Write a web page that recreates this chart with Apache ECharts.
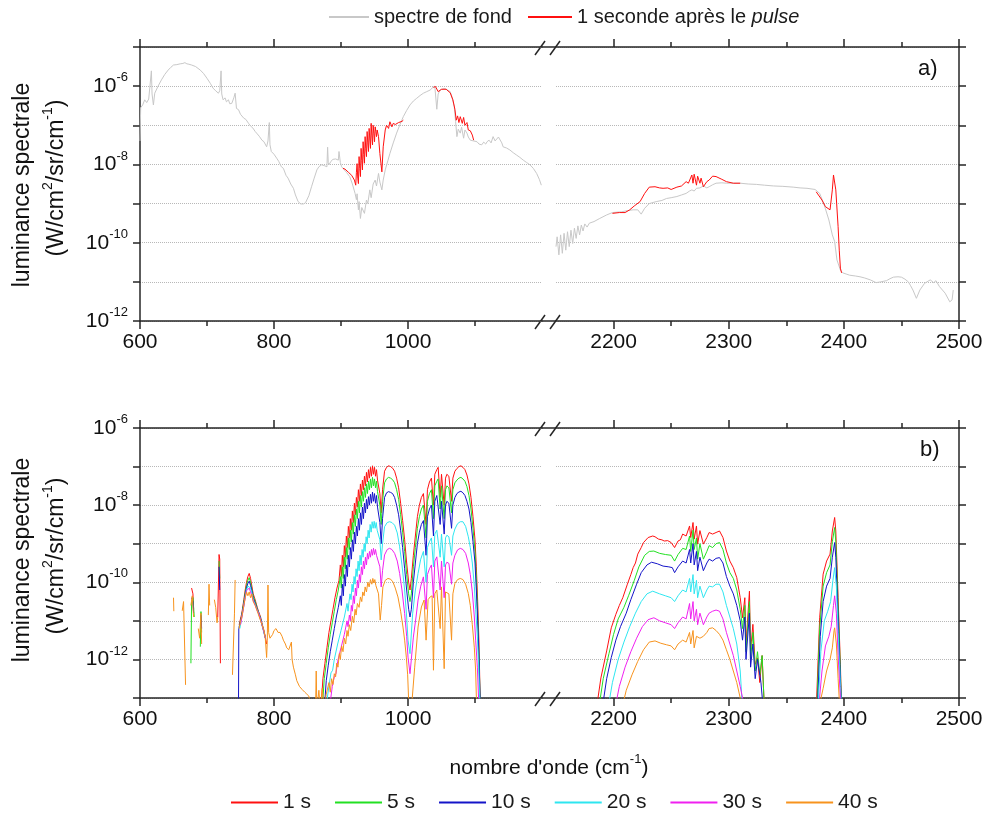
<!DOCTYPE html>
<html><head><meta charset="utf-8">
<script src="https://cdn.jsdelivr.net/npm/echarts@6/dist/echarts.min.js"></script>
<style>html,body{margin:0;padding:0;background:#fff}#c{width:987px;height:821px}</style>
</head><body><div id="c"></div>
<script>
// ---------------- DATA (wavenumber cm-1, log10 of spectral radiance W/cm2/sr/cm-1) ----------------
var xLeftMajor = [600, 800, 1000];
var xLeftMinor = [700, 900, 1100];
var xRightMajor = [2200, 2300, 2400, 2500];
var xRightMinor = [2250, 2350, 2450];
var yLabelExponents = [-6, -8, -10, -12];
var legendA = ['spectre de fond', '1 seconde après le pulse'];
var legendB = ['1 s', '5 s', '10 s', '20 s', '30 s', '40 s'];

// panel a) background spectrum
var bgLeft = [[600,-7.4],[601,-6.55],[604,-6.48],[607,-6.35],[610,-6.42],[613,-6.33],[615,-6.38],[617,-5.61],[618,-6.2],[620,-6.48],[622,-6.18],[627,-6.0],[632,-5.84],[637,-5.7],[642,-5.59],[646,-5.52],[650,-5.46],[655,-5.45],[660,-5.43],[664,-5.42],[667,-5.4],[670,-5.43],[673,-5.44],[677,-5.46],[683,-5.5],[690,-5.59],[695,-5.68],[700,-5.8],[705,-5.93],[709,-6.05],[713,-6.12],[717,-6.18],[719,-6.12],[721,-5.61],[722,-6.2],[724,-6.35],[727,-6.3],[729,-6.4],[732,-6.35],[734,-6.45],[737,-6.44],[740,-6.3],[742,-6.18],[744,-6.57],[747,-6.6],[750,-6.72],[752,-6.74],[755,-6.82],[758,-6.85],[762,-6.95],[765,-7.02],[768,-7.06],[772,-7.16],[775,-7.22],[778,-7.28],[782,-7.38],[785,-7.42],[789,-7.55],[791,-7.4],[793,-6.93],[794,-7.5],[796,-7.67],[800,-7.74],[804,-7.84],[807,-7.92],[811,-8.06],[814,-8.1],[818,-8.28],[821,-8.35],[825,-8.5],[829,-8.61],[832,-8.78],[836,-8.95],[840,-9.01],[844,-9.01],[847,-8.98],[849,-8.95],[852,-8.8],[856,-8.57],[860,-8.35],[864,-8.14],[867,-8.06],[871,-8.01],[875,-8.03],[879,-8.06],[880,-7.56],[881,-7.95],[882,-8.01],[885,-7.92],[888,-7.87],[892,-7.86],[896,-7.89],[897,-7.67],[899,-7.95],[901,-8.06],[903,-8.10],[908,-8.2],[913,-8.31],[917,-8.5],[921,-8.74],[923,-8.9],[924,-8.75],[926,-9.16],[927,-8.95],[929,-9.38],[931,-9.1],[933,-9.08],[935,-9.25],[938,-8.91],[940,-9.0],[943,-8.65],[945,-8.85],[948,-8.5],[951,-8.40],[953,-8.55],[956,-8.23],[958,-8.45],[961,-8.65],[963,-8.4],[966,-8.14],[970,-7.9],[973,-7.72],[978,-7.45],[983,-7.20],[988,-6.98],[993,-6.78],[998,-6.62],[1003,-6.48],[1008,-6.38],[1013,-6.31],[1018,-6.24],[1023,-6.18],[1028,-6.14],[1033,-6.10],[1036,-6.05],[1040,-6.0],[1041,-6.05],[1043,-6.59],[1045,-6.2],[1048,-6.10],[1052,-6.07],[1055,-6.06],[1059,-6.1],[1063,-6.14],[1066,-6.3],[1069,-6.52],[1071,-6.9],[1073,-7.29],[1075,-7.1],[1078,-7.2],[1080,-7.05],[1083,-7.33],[1085,-7.12],[1088,-7.2],[1090,-7.3],[1093,-7.38],[1098,-7.4],[1103,-7.42],[1106,-7.48],[1110,-7.50],[1113,-7.43],[1116,-7.48],[1118,-7.42],[1121,-7.38],[1124,-7.45],[1127,-7.29],[1130,-7.4],[1132,-7.38],[1135,-7.3],[1137,-7.33],[1140,-7.45],[1142,-7.55],[1147,-7.58],[1152,-7.63],[1157,-7.7],[1162,-7.76],[1167,-7.82],[1172,-7.89],[1177,-7.95],[1182,-8.01],[1187,-8.1],[1192,-8.23],[1196,-8.38],[1199,-8.53]];
var bgRight = [[2150,-10.10],[2151,-9.85],[2152.5,-10.31],[2154,-9.80],[2155.5,-10.27],[2157,-9.76],[2158.5,-10.19],[2160,-9.72],[2161.5,-10.10],[2163,-9.68],[2164.5,-10.02],[2166,-9.63],[2167.5,-9.89],[2169,-9.57],[2170.5,-9.8],[2172,-9.55],[2173.5,-9.7],[2175,-9.52],[2177,-9.6],[2179,-9.50],[2183,-9.46],[2188,-9.38],[2194,-9.29],[2199,-9.23],[2203,-9.22],[2207,-9.21],[2212,-9.18],[2217,-9.16],[2221,-9.16],[2224,-9.27],[2227,-9.12],[2231,-9.00],[2237,-8.95],[2242,-8.92],[2246,-8.87],[2250,-8.85],[2255,-8.82],[2259,-8.78],[2263,-8.74],[2266,-8.68],[2268,-8.65],[2270,-8.68],[2272,-8.61],[2275,-8.6],[2278,-8.55],[2281,-8.6],[2283,-8.57],[2286,-8.52],[2289,-8.48],[2294,-8.47],[2298,-8.48],[2304,-8.48],[2310,-8.48],[2317,-8.5],[2324,-8.51],[2331,-8.53],[2339,-8.55],[2347,-8.56],[2356,-8.58],[2362,-8.6],[2368,-8.61],[2375,-8.64],[2379,-8.74],[2383,-9.04],[2387,-9.42],[2390,-9.80],[2392,-9.97],[2394,-10.44],[2397,-10.70],[2399,-10.77],[2402,-10.8],[2405,-10.83],[2410,-10.85],[2414,-10.87],[2418,-10.9],[2423,-10.95],[2428,-11.02],[2432,-11.0],[2437,-10.97],[2440,-10.92],[2443,-10.88],[2447,-10.87],[2450,-10.88],[2453,-10.93],[2456,-11.00],[2458,-11.1],[2460,-11.21],[2463,-11.42],[2466,-11.21],[2470,-11.04],[2475,-10.95],[2478,-11.02],[2480,-10.97],[2483,-11.12],[2488,-11.29],[2492,-11.51],[2494,-11.46],[2495,-11.21]];
// panel a) 1 s after the pulse
var pulseLeft = [[903,-8.10],[906,-8.12],[908,-8.14],[911,-8.2],[913,-8.23],[916,-8.28],[918,-8.31],[920,-8.4],[922,-8.53],[923,-8.2],[924,-7.98],[925,-8.35],[926,-8.49],[927,-7.80],[928,-8.1],[929,-8.31],[930,-7.59],[931,-7.9],[932,-8.14],[933,-7.42],[934,-7.75],[935,-7.97],[936,-7.29],[937,-7.6],[938,-7.80],[939,-7.16],[940,-7.45],[941,-7.67],[942,-7.08],[943,-7.35],[944,-7.59],[945,-6.95],[946,-7.25],[947,-7.50],[948,-7.00],[949,-7.2],[950,-7.42],[951,-7.04],[952,-7.15],[953,-7.29],[954,-7.12],[956,-7.29],[958,-7.72],[961,-8.19],[963,-7.55],[966,-7.12],[968,-7.00],[971,-7.08],[973,-6.91],[976,-7.04],[978,-6.95],[981,-6.98],[983,-7.00],[986,-6.93],[988,-6.95],[991,-6.9],[993,-6.87],null,[1038,-6.03],[1041,-6.01],[1045,-6.14],[1050,-6.08],[1057,-6.08],[1063,-6.17],[1067,-6.35],[1070,-6.59],[1072,-6.87],[1074,-6.76],[1076,-6.93],[1078,-6.78],[1081,-6.95],[1083,-6.80],[1085,-7.00],[1088,-6.93],[1090,-7.12],[1093,-7.14],[1096,-7.25],[1098,-7.38]];
var pulseRight = [[2199,-9.25],[2205,-9.23],[2210,-9.23],[2214,-9.16],[2218,-9.06],[2223,-8.95],[2227,-8.74],[2231,-8.58],[2236,-8.57],[2240,-8.6],[2243,-8.61],[2247,-8.6],[2250,-8.64],[2255,-8.58],[2259,-8.55],[2263,-8.44],[2265,-8.48],[2268,-8.27],[2269,-8.48],[2270,-8.25],[2272,-8.53],[2273,-8.30],[2275,-8.48],[2276,-8.35],[2278,-8.57],[2281,-8.44],[2283,-8.40],[2286,-8.30],[2289,-8.31],[2294,-8.38],[2298,-8.44],[2304,-8.48],[2310,-8.48],null,[2376,-8.70],[2381,-8.91],[2384,-9.08],[2388,-9.16],[2390,-8.65],[2391,-8.27],[2393,-8.65],[2395,-9.59],[2396,-10.19],[2397,-10.65],[2398,-10.77]];

// panel b) time series after the pulse
var s1Left = [[677,-10.15],[679,-10.3],[680,-10.7],null,[716,-10.9],[718,-9.28],[719,-9.4],[720,-12.1],null,[748,-11.1],[752,-10.8],[755,-10.45],[757,-10.2],[759,-10.0],[761,-9.85],[763,-9.77],[765,-9.9],[767,-10.1],[769,-10.3],[772,-10.46],[775,-10.65],[777,-10.76],[780,-10.9],[782,-11.06],[785,-11.25],[787,-11.41],[789,-11.6],null,
[870,-13.3],[873,-12.5],[876,-12.1],[879,-11.7],[882,-11.3],[885,-11.0],[888,-10.7],[891,-10.4],[894,-10.15],[897,-9.95],[899,-9.55],[900.5,-9.85],[902,-9.3],[903.5,-9.6],[905,-9.05],[906.5,-9.35],[908,-8.8],[909.5,-9.1],[911,-8.55],[912.5,-8.85],[914,-8.35],[915.5,-8.65],[917,-8.15],[918.5,-8.45],[920,-7.95],[921.5,-8.25],[923,-7.8],[924.5,-8.05],[926,-7.6],[927.5,-7.9],[929,-7.45],[930.5,-7.75],[932,-7.35],[933.5,-7.6],[935,-7.25],[936.5,-7.5],[938,-7.15],[939.5,-7.4],[941,-7.08],[942.5,-7.3],[944,-7.02],[945.5,-7.25],[947,-6.98],[948.5,-7.2],[950,-7.02],[951.5,-7.25],[953,-7.08],[954.5,-7.35],[956,-7.3],[958,-7.7],[960,-8.2],[962,-7.6],[965,-7.12],[968,-7.02],[971,-6.98],[974,-7.0],[977,-7.04],[980,-7.12],[983,-7.3],[986,-7.55],[989,-7.95],[992,-8.4],[995,-8.9],[998,-9.5],[1001,-10.0],[1003,-10.2],
[1005,-9.9],[1008,-9.3],[1011,-8.8],[1014,-8.3],[1017,-8.0],[1020,-7.8],[1023,-7.7],[1025,-7.75],[1027,-8.5],[1029,-7.6],[1032,-7.4],[1035,-7.3],[1038,-8.0],[1040,-7.2],[1043,-7.08],[1045,-7.02],[1048,-7.8],[1050,-7.2],[1052,-7.15],[1054,-8.0],[1056,-7.3],[1058,-7.2],[1061,-7.25],[1065,-7.9],[1067,-7.3],[1070,-7.12],[1073,-7.05],[1076,-7.0],[1079,-6.98],[1082,-7.02],[1085,-7.08],[1088,-7.22],[1091,-7.45],[1094,-7.8],[1097,-8.3],[1100,-8.9],[1102,-9.6],[1104,-10.5],[1106,-11.6],[1108,-13.3]];
var s1Right = [[2185,-13.3],[2189,-12.48],[2194,-11.78],[2198,-11.18],[2202,-10.83],[2205,-10.6],[2208,-10.40],[2212,-10.05],[2215,-9.8],[2217,-9.62],[2219,-9.5],[2221,-9.27],[2224,-9.1],[2226,-8.97],[2230,-8.84],[2234,-8.80],[2236,-8.82],[2239,-8.88],[2242,-8.9],[2244,-8.93],[2247,-8.92],[2250,-8.97],[2253,-9.10],[2256,-8.93],[2258,-8.9],[2260,-8.75],[2263,-8.80],[2266,-8.54],[2267,-8.84],[2269,-8.45],[2270,-8.88],[2272,-8.54],[2273,-9.01],[2275,-8.66],[2278,-9.01],[2281,-8.84],[2283,-8.71],[2286,-8.75],[2289,-8.71],[2292,-8.67],[2295,-8.84],[2298,-9.19],[2301,-9.45],[2304,-9.62],[2307,-9.88],[2310,-10.40],[2312,-10.92],[2314,-10.40],[2315,-11.61],[2318,-10.23],[2319,-11.78],[2321,-11.09],[2323,-12.13],[2325,-11.96],[2327,-12.6],[2329,-11.9],[2331,-13.3],null,[2376,-13.3],[2379,-10.92],[2382,-9.79],[2385,-9.45],[2388,-9.27],[2390,-8.67],[2392,-8.32],[2393,-8.67],[2395,-10.4],[2397,-12.13],[2398,-13.3]];

var s5Left = [[676,-12.1],[677,-10.5],[679,-10.4],[681,-10.9],null,[690,-11.67],[691,-10.76],[692,-11.3],null,[718,-9.45],[719,-9.9],null,[748,-11.15],[752,-10.85],[755,-10.5],[757,-10.27],[759,-10.08],[761,-9.95],[763,-9.88],[765,-10.0],[767,-10.18],[769,-10.35],[772,-10.5],[775,-10.68],[777,-10.78],[780,-10.93],[782,-11.08],[785,-11.27],[787,-11.43],null,
[872,-13.3],[875,-12.5],[878,-12.1],[881,-11.7],[884,-11.35],[887,-11.05],[890,-10.75],[893,-10.45],[896,-10.2],[899,-9.85],[900.5,-10.15],[902,-9.6],[903.5,-9.9],[905,-9.35],[906.5,-9.65],[908,-9.1],[909.5,-9.4],[911,-8.85],[912.5,-9.15],[914,-8.65],[915.5,-8.95],[917,-8.45],[918.5,-8.75],[920,-8.25],[921.5,-8.55],[923,-8.1],[924.5,-8.35],[926,-7.9],[927.5,-8.2],[929,-7.75],[930.5,-8.05],[932,-7.65],[933.5,-7.9],[935,-7.55],[936.5,-7.8],[938,-7.45],[939.5,-7.7],[941,-7.38],[942.5,-7.6],[944,-7.32],[945.5,-7.55],[947,-7.28],[948.5,-7.5],[950,-7.32],[951.5,-7.55],[953,-7.38],[954.5,-7.65],[956,-7.6],[958,-8.0],[960,-8.5],[962,-7.9],[965,-7.42],[968,-7.32],[971,-7.28],[974,-7.3],[977,-7.34],[980,-7.42],[983,-7.6],[986,-7.85],[989,-8.25],[992,-8.7],[995,-9.2],[998,-9.8],[1001,-10.3],[1003,-10.5],
[1005,-10.3],[1008,-9.6],[1011,-9.1],[1014,-8.6],[1017,-8.3],[1020,-8.1],[1023,-8.0],[1025,-8.05],[1027,-8.85],[1029,-7.9],[1032,-7.7],[1035,-7.6],[1038,-8.35],[1040,-7.5],[1043,-7.38],[1045,-7.32],[1048,-8.1],[1050,-7.5],[1052,-7.45],[1054,-8.35],[1056,-7.6],[1058,-7.5],[1061,-7.55],[1065,-8.2],[1067,-7.6],[1070,-7.42],[1073,-7.35],[1076,-7.3],[1079,-7.28],[1082,-7.32],[1085,-7.38],[1088,-7.52],[1091,-7.75],[1094,-8.1],[1097,-8.6],[1100,-9.2],[1102,-9.9],[1104,-10.8],[1106,-11.9],[1108,-13.3]];
var s5Right = [[2187,-13.3],[2191,-12.5],[2196,-11.85],[2200,-11.35],[2204,-10.95],[2209,-10.65],[2213,-10.35],[2218,-9.95],[2222,-9.6],[2227,-9.3],[2231,-9.2],[2235,-9.19],[2240,-9.25],[2245,-9.28],[2250,-9.3],[2253,-9.45],[2256,-9.28],[2260,-9.12],[2263,-9.15],[2266,-8.8],[2267,-9.2],[2269,-8.65],[2270,-9.15],[2272,-8.85],[2273,-9.4],[2275,-9.0],[2278,-9.4],[2281,-9.2],[2283,-9.05],[2286,-9.1],[2289,-9.0],[2292,-8.97],[2295,-9.15],[2298,-9.5],[2301,-9.75],[2304,-9.9],[2307,-10.2],[2310,-10.7],[2312,-11.2],[2314,-10.6],[2315,-11.8],[2318,-10.5],[2319,-12.0],[2321,-11.3],[2323,-12.3],[2325,-11.8],[2327,-12.4],[2329,-11.9],[2331,-13.3],null,[2376.5,-13.3],[2379,-11.2],[2382,-10.1],[2385,-9.75],[2388,-9.55],[2390,-8.95],[2392,-8.58],[2393,-8.95],[2395,-10.6],[2397,-12.3],[2398,-13.3]];

var s10Left = [[677,-10.4],[679,-10.5],[680,-10.8],null,[691,-10.85],[692,-11.2],null,[718,-9.6],[719,-10.2],null,[747,-13.3],[747.5,-11.2],[750,-11.0],[752,-10.85],[755,-10.55],[757,-10.32],[759,-10.15],[761,-10.03],[763,-9.97],[765,-10.08],[767,-10.22],[769,-10.4],[772,-10.55],[775,-10.7],[777,-10.8],[780,-10.95],[782,-11.1],[785,-11.3],[787,-11.45],null,
[875,-13.3],[878,-12.55],[881,-12.15],[884,-11.8],[887,-11.5],[890,-11.2],[893,-10.9],[896,-10.65],[899,-10.35],[900.5,-10.6],[902,-10.05],[903.5,-10.35],[905,-9.8],[906.5,-10.1],[908,-9.55],[909.5,-9.85],[911,-9.3],[912.5,-9.6],[914,-9.1],[915.5,-9.4],[917,-8.9],[918.5,-9.2],[920,-8.7],[921.5,-9.0],[923,-8.55],[924.5,-8.8],[926,-8.35],[927.5,-8.65],[929,-8.2],[930.5,-8.5],[932,-8.05],[933.5,-8.35],[935,-7.95],[936.5,-8.2],[938,-7.85],[939.5,-8.1],[941,-7.78],[942.5,-8.0],[944,-7.72],[945.5,-7.95],[947,-7.66],[948.5,-7.9],[950,-7.7],[951.5,-7.95],[953,-7.75],[954.5,-8.05],[956,-8.0],[958,-8.45],[960,-9.0],[962,-8.35],[965,-7.8],[968,-7.68],[971,-7.65],[974,-7.67],[977,-7.7],[980,-7.8],[983,-8.0],[986,-8.25],[989,-8.65],[992,-9.1],[995,-9.65],[998,-10.2],[1001,-10.7],[1003,-10.9],
[1005,-10.7],[1008,-10.0],[1011,-9.5],[1014,-9.0],[1017,-8.7],[1020,-8.5],[1023,-8.4],[1025,-8.45],[1027,-9.3],[1029,-8.3],[1032,-8.1],[1035,-8.0],[1038,-8.8],[1040,-7.9],[1043,-7.75],[1045,-7.7],[1048,-8.5],[1050,-7.9],[1052,-7.85],[1054,-8.75],[1056,-8.0],[1058,-7.9],[1061,-7.95],[1065,-8.6],[1067,-8.0],[1070,-7.8],[1073,-7.7],[1076,-7.66],[1079,-7.64],[1082,-7.68],[1085,-7.75],[1088,-7.9],[1091,-8.1],[1094,-8.45],[1097,-8.95],[1100,-9.5],[1102,-10.2],[1104,-11.0],[1106,-12.0],[1108,-13.3]];
var s10Right = [[2190,-13.3],[2194,-12.5],[2198,-11.95],[2202,-11.5],[2206,-11.15],[2211,-10.8],[2215,-10.45],[2220,-10.05],[2224,-9.75],[2229,-9.55],[2233,-9.48],[2238,-9.52],[2243,-9.58],[2248,-9.6],[2251,-9.62],[2253,-9.75],[2256,-9.6],[2260,-9.45],[2263,-9.5],[2266,-9.15],[2267,-9.5],[2269,-9.0],[2270,-9.55],[2272,-9.2],[2273,-9.7],[2275,-9.35],[2278,-9.7],[2281,-9.5],[2283,-9.4],[2286,-9.45],[2289,-9.38],[2292,-9.36],[2295,-9.5],[2298,-9.85],[2301,-10.1],[2304,-10.3],[2307,-10.6],[2310,-11.0],[2312,-11.5],[2314,-10.9],[2315,-12.0],[2318,-10.8],[2319,-12.2],[2321,-11.6],[2323,-12.5],[2325,-12.0],[2328,-12.6],[2330,-13.3],null,[2377,-13.3],[2379.5,-11.4],[2382,-10.5],[2385,-10.1],[2388,-9.9],[2390,-9.35],[2392,-8.97],[2393,-9.35],[2395,-10.9],[2397,-12.5],[2398,-13.3]];

var s20Left = [[749,-11.2],[752,-10.9],[755,-10.6],[757,-10.38],[759,-10.2],[761,-10.1],[763,-10.05],[765,-10.15],[767,-10.28],[769,-10.45],[772,-10.58],[775,-10.72],[777,-10.8],[780,-10.97],[782,-11.1],[785,-11.3],[787,-11.45],null,
[877,-13.3],[882,-12.7],[885,-12.35],[887.5,-12.28],[890,-12.0],[892,-11.95],[895,-11.6],[897.5,-11.59],[900,-11.25],[902,-11.25],[905,-10.9],[907.5,-10.9],[909,-10.55],[910.5,-10.75],[912,-10.5],[913.5,-10.3],[915,-10.45],[916.5,-10.05],[918,-10.25],[919.5,-9.85],[921,-10.05],[922.5,-9.65],[924,-9.85],[925.5,-9.45],[927,-9.7],[928.5,-9.3],[930,-9.55],[931.5,-9.15],[933,-9.35],[934.5,-9.0],[936,-9.2],[937.5,-8.82],[939,-9.0],[940.5,-8.65],[942,-8.85],[943.5,-8.5],[945,-8.7],[946.5,-8.43],[948,-8.6],[949.5,-8.42],[951,-8.6],[952.5,-8.45],[954,-8.65],[955.5,-8.6],[958,-8.9],[960,-9.42],[962,-9.0],[965,-8.56],[969,-8.45],[972.5,-8.43],[976,-8.45],[980,-8.52],[984,-8.72],[987.5,-9.08],[991,-9.55],[995,-10.2],[998,-10.9],[1000,-11.5],[1003,-11.85],
[1007,-10.8],[1011,-10.2],[1015,-9.77],[1019,-9.4],[1023,-9.2],[1025,-9.25],[1027,-10.0],[1029,-9.1],[1032,-8.95],[1035,-8.85],[1038,-9.6],[1040,-8.75],[1043,-8.65],[1045,-8.6],[1048,-9.35],[1050,-8.75],[1052,-8.72],[1054,-9.6],[1056,-8.85],[1058,-8.78],[1061,-8.82],[1065,-9.3],[1067,-8.8],[1070,-8.62],[1074,-8.48],[1078,-8.43],[1082,-8.43],[1086,-8.55],[1090,-8.82],[1093,-9.1],[1096,-9.5],[1099,-10.1],[1101,-10.7],[1103.5,-11.4],[1105.5,-12.2],[1107.5,-13.3]];
var s20Right = [[2195,-13.3],[2199,-12.6],[2204,-12.0],[2209,-11.55],[2214,-11.15],[2219,-10.8],[2224,-10.5],[2229,-10.3],[2234,-10.23],[2240,-10.3],[2245,-10.35],[2250,-10.4],[2253,-10.5],[2256,-10.35],[2260,-10.2],[2263,-10.25],[2266,-9.9],[2267,-10.25],[2269,-9.8],[2270,-10.3],[2272,-9.95],[2273,-10.4],[2275,-10.1],[2278,-10.4],[2281,-10.2],[2283,-10.1],[2286,-10.12],[2289,-10.05],[2292,-10.05],[2295,-10.25],[2298,-10.6],[2301,-10.9],[2304,-11.2],[2307,-11.6],[2310,-12.3],[2312,-13.3],null,[2377.5,-13.3],[2380,-11.8],[2383,-11.0],[2386,-10.75],[2388.5,-10.5],[2390.5,-9.95],[2392,-9.62],[2393.5,-10.1],[2395,-11.3],[2397,-12.7],[2398,-13.3]];

var s30Left = [[750,-11.1],[752,-10.92],[755,-10.62],[757,-10.4],[759,-10.22],[761,-10.2],[763,-10.15],[765,-10.25],[767,-10.3],[769,-10.48],[772,-10.6],[775,-10.74],[777,-10.8],[780,-10.98],[782,-11.1],[785,-11.28],[787,-11.45],null,
[882.5,-13.3],[887,-12.7],[890,-12.45],[892.5,-12.37],[895,-12.05],[897,-12.0],[900,-11.7],[902.5,-11.68],[905,-11.35],[907,-11.35],[909,-11.0],[910.5,-11.15],[912.5,-10.85],[914,-11.0],[915.5,-10.6],[917,-10.75],[918.5,-10.35],[920,-10.55],[921.5,-10.15],[923,-10.35],[924.5,-9.95],[926,-10.15],[927.5,-9.8],[929,-10.0],[930.5,-9.6],[932,-9.8],[933.5,-9.45],[935,-9.65],[936.5,-9.35],[938,-9.55],[939.5,-9.25],[941,-9.4],[942.5,-9.2],[944,-9.35],[945.5,-9.15],[947,-9.3],[948.5,-9.12],[950,-9.28],[951.5,-9.15],[953,-9.3],[955,-9.29],[958,-9.6],[960,-10.12],[962,-9.7],[965,-9.29],[969,-9.15],[972.5,-9.12],[976,-9.15],[980,-9.25],[984,-9.45],[987.5,-9.77],[991,-10.2],[995,-10.81],[998,-11.4],[1000,-11.94],[1003,-12.37],
[1008,-11.42],[1012,-10.9],[1015,-10.46],[1019,-10.1],[1023,-9.86],[1025,-9.9],[1027,-10.7],[1029,-9.8],[1032,-9.65],[1035,-9.55],[1038,-10.4],[1040,-9.45],[1043,-9.34],[1045,-9.3],[1048,-10.2],[1050,-9.45],[1052,-9.42],[1054,-10.4],[1056,-9.55],[1058,-9.48],[1061,-9.51],[1065,-10.05],[1067,-9.5],[1070,-9.3],[1074,-9.16],[1078,-9.12],[1082,-9.15],[1086,-9.25],[1090,-9.5],[1093,-9.8],[1096,-10.25],[1099,-10.9],[1101,-11.5],[1103.5,-12.2],[1106,-13.3]];
var s30Right = [[2201,-13.3],[2205,-12.7],[2210,-12.2],[2215,-11.8],[2220,-11.45],[2225,-11.15],[2230,-10.97],[2235,-10.92],[2240,-11.0],[2245,-11.05],[2250,-11.1],[2253,-11.2],[2256,-11.05],[2260,-10.9],[2263,-10.95],[2266,-10.55],[2267,-10.95],[2269,-10.5],[2270,-11.0],[2272,-10.7],[2273,-11.1],[2275,-10.8],[2278,-11.1],[2281,-10.9],[2283,-10.8],[2286,-10.75],[2289,-10.72],[2292,-10.75],[2295,-10.95],[2298,-11.3],[2301,-11.6],[2304,-11.9],[2307,-12.3],[2310,-12.7],[2314,-13.3],null,[2378,-13.3],[2381,-12.3],[2384,-11.65],[2387,-11.4],[2389,-11.15],[2391,-10.6],[2392,-10.35],[2393.5,-10.8],[2395,-11.9],[2397,-13.0],[2397.5,-13.3]];

var s40Left = [[650,-10.4],[650.5,-10.75],null,[663,-10.74],[665,-10.5],[666,-10.55],[668,-12.66],null,[676,-10.6],[678,-10.35],[680,-10.9],null,[687,-11.2],[689,-11.45],[691,-10.8],[692,-11.6],null,[702,-10.85],[703,-10.05],[704,-10.6],null,[711,-10.45],[713,-10.65],[715,-11.05],[716,-10.9],null,[738,-12.4],[741,-10.8],[742,-9.94],null,
[748,-11.2],[750,-11.0],[752,-10.9],[755,-10.6],[757,-10.4],[759,-10.25],[761,-10.35],[763,-10.25],[765,-10.4],[767,-10.3],[769,-10.5],[772,-10.6],[775,-10.75],[777,-10.8],[780,-11.0],[782,-11.1],[785,-11.25],[787,-11.45],[789,-11.95],[790,-11.5],[791,-10.07],[792,-11.3],[794,-11.45],[796,-11.5],[798,-11.35],[800,-11.25],[803,-11.2],[806,-11.3],[809,-11.3],[812,-11.4],[814,-11.5],[817,-11.6],[819,-11.7],[822,-11.75],[824,-11.7],[826,-11.55],[827,-12.0],[829,-12.2],[832,-12.4],[834,-12.55],[838,-12.7],[842,-12.78],[846,-12.85],[849,-12.9],[852,-12.95],[856,-13.3],[862,-13.3],[863,-12.3],[864,-13.3],[867,-12.8],[869,-13.3],[872,-12.75],[875,-13.3],[878,-12.9],
[882,-12.6],[884,-12.85],[886,-12.5],[888,-12.65],[890,-12.37],[892,-12.45],[893.5,-12.1],[895.5,-12.2],[897.5,-11.85],[899,-12.0],[901,-11.65],[903,-11.8],[905,-11.45],[907,-11.6],[909,-11.25],[910.5,-11.4],[912.5,-11.1],[914.5,-11.25],[917,-10.88],[919,-11.05],[921,-10.7],[922.5,-10.85],[924.5,-10.55],[927,-10.65],[929,-10.38],[931,-10.5],[932.5,-10.25],[934.5,-10.35],[936,-10.12],[938,-10.25],[940,-10.0],[942,-10.12],[944,-9.93],[946,-10.05],[947.5,-9.9],[949,-10.02],[950.5,-9.93],[952,-10.08],[953.5,-10.03],[956,-10.3],[958.5,-10.98],[960.5,-10.6],[962.5,-10.12],[966,-9.95],[970,-9.9],[974,-9.92],[977.5,-9.99],[981,-10.15],[985,-10.38],[989,-10.75],[992.5,-11.16],[995,-11.5],[997.5,-11.94],[999.5,-12.4],[1001.5,-13.3],[1005,-13.3],
[1010,-12.2],[1015,-11.16],[1020,-10.64],[1024,-10.46],[1027,-11.5],[1030,-10.45],[1033,-10.38],[1036,-10.35],[1038,-12.28],[1040,-10.3],[1043,-10.2],[1045,-10.15],[1048,-11.2],[1050,-10.12],[1052,-10.15],[1054,-12.24],[1056,-10.25],[1058,-10.2],[1061,-10.3],[1065,-11.5],[1067,-10.3],[1070,-10.03],[1074,-9.93],[1078,-9.9],[1082,-9.93],[1086,-10.05],[1090,-10.29],[1093,-10.6],[1096,-11.1],[1099,-11.7],[1101,-12.3],[1102.5,-13.3]];
var s40Right = [[2207,-13.3],[2211,-12.8],[2216,-12.4],[2221,-12.05],[2226,-11.75],[2231,-11.55],[2236,-11.52],[2241,-11.58],[2246,-11.62],[2250,-11.65],[2253,-11.75],[2256,-11.6],[2260,-11.5],[2263,-11.55],[2266,-11.3],[2267,-11.6],[2269,-11.25],[2270,-11.7],[2272,-11.4],[2275,-11.45],[2278,-11.4],[2281,-11.3],[2283,-11.2],[2286,-11.18],[2289,-11.25],[2292,-11.35],[2295,-11.5],[2298,-11.75],[2301,-12.0],[2304,-12.3],[2307,-12.6],[2310,-13.0],[2312,-13.3],null,[2378,-13.3],[2382,-12.75],[2385,-12.3],[2388,-12.0],[2390,-11.7],[2391.5,-11.25],[2392,-11.18],[2393.5,-11.6],[2395,-12.5],[2396.5,-13.3]];

// ---------------- CHART ----------------
var FONT = '"Liberation Sans", Arial, sans-serif';
var AX = '#262626';
var colors = {bg:'#c8c8c8', red:'#ff1010', green:'#22e022', blue:'#1414c8', cyan:'#2ee6f0', magenta:'#f020f0', orange:'#f7931e'};

function toData(arr){
  return arr.map(function(p){ return p ? [p[0], Math.pow(10, p[1])] : ['-', '-']; });
}

var grids = [
  {left:140, top:47, width:402, height:274},
  {left:556, top:47, width:403, height:274},
  {left:140, top:428, width:402, height:270},
  {left:556, top:428, width:403, height:270}
];
var gridRange = [[600,1200],[2150,2500],[600,1200],[2150,2500]];
var gridTicks = [[xLeftMajor,xLeftMinor],[xRightMajor,xRightMinor],[xLeftMajor,xLeftMinor],[xRightMajor,xRightMinor]];
var yRange = [[1e-12,1e-5],[1e-12,1e-5],[1e-13,1e-6],[1e-13,1e-6]];

var xAxes = [];
grids.forEach(function(g, i){
  function ax(pos, ticks, len, label, line){
    return {gridIndex:i, type:'value', min:gridRange[i][0], max:gridRange[i][1], position:pos,
      axisLine:{show:line, onZero:false, lineStyle:{color:AX, width:1.5}},
      axisTick:{show:true, inside:false, length:len, customValues:ticks, lineStyle:{color:AX, width:1.5}},
      axisLabel: label ? {show:true, customValues:ticks, margin:11, fontSize:21, fontFamily:FONT, color:'#111',
        formatter:function(v){ return String(v); }} : {show:false},
      splitLine:{show:false}};
  }
  xAxes.push(ax('bottom', gridTicks[i][0], 8, true, true));
  xAxes.push(ax('bottom', gridTicks[i][1], 5, false, false));
  xAxes.push(ax('top', gridTicks[i][0], 8, false, true));
  xAxes.push(ax('top', gridTicks[i][1], 5, false, false));
});

var yAxes = grids.map(function(g, i){
  var left = (i % 2 === 0);
  return {gridIndex:i, type:'log', logBase:10, min:yRange[i][0], max:yRange[i][1], splitNumber:7,
    position: left ? 'left' : 'right',
    axisLine:{show:true, onZero:false, lineStyle:{color:AX, width:1.5}},
    axisTick:{show:true, inside:false, length:7, lineStyle:{color:AX, width:1.5}},
    axisLabel: left ? {show:true, margin:12, color:'#111', fontFamily:FONT,
      formatter:function(v){
        var e = Math.round(Math.log(v)/Math.LN10);
        return yLabelExponents.indexOf(e) >= 0 ? '{b|10}{s|' + e + '}' : '';
      },
      rich:{b:{fontSize:21, fontFamily:FONT, color:'#111', lineHeight:30},
            s:{fontSize:13, fontFamily:FONT, color:'#111', verticalAlign:'top', lineHeight:14}}} : {show:false},
    splitLine:{show:true, lineStyle:{type:'dotted', color:'#b8b8b8', width:1}},
    minorTick:{show:false}, minorSplitLine:{show:false}};
});

function ser(name, color, arr, g){
  return {name:name, type:'line', xAxisIndex:4*g, yAxisIndex:g, data:toData(arr),
    showSymbol:false, symbol:'none', color:color, lineStyle:{color:color, width:1}, itemStyle:{color:color},
    connectNulls:false, clip:true, silent:true, animation:false, emphasis:{disabled:true}};
}

var series = [
  ser(legendA[0], colors.bg, bgLeft, 0), ser(legendA[0], colors.bg, bgRight, 1),
  ser(legendA[1], colors.red, pulseLeft, 0), ser(legendA[1], colors.red, pulseRight, 1),
  ser(legendB[0], colors.red, s1Left, 2), ser(legendB[0], colors.red, s1Right, 3),
  ser(legendB[1], colors.green, s5Left, 2), ser(legendB[1], colors.green, s5Right, 3),
  ser(legendB[2], colors.blue, s10Left, 2), ser(legendB[2], colors.blue, s10Right, 3),
  ser(legendB[3], colors.cyan, s20Left, 2), ser(legendB[3], colors.cyan, s20Right, 3),
  ser(legendB[4], colors.magenta, s30Left, 2), ser(legendB[4], colors.magenta, s30Right, 3),
  ser(legendB[5], colors.orange, s40Left, 2), ser(legendB[5], colors.orange, s40Right, 3)
];

var legTxt = {fontSize:20, fontFamily:FONT, color:'#1a1a1a', rich:{i:{fontSize:20, fontFamily:FONT, color:'#1a1a1a', fontStyle:'italic'}}};
var legends = [
  {data:[legendA[0]], left:329, top:7, padding:0, icon:'rect', itemWidth:40, itemHeight:2, textStyle:legTxt, selectedMode:false},
  {data:[legendA[1]], left:528, top:7, padding:0, icon:'rect', itemWidth:44, itemHeight:2, textStyle:legTxt, selectedMode:false,
    formatter:function(n){ return n.replace('pulse', '{i|pulse}'); }},
  {data:legendB, left:231, top:792, padding:0, icon:'rect', itemWidth:47, itemHeight:2, itemGap:24,
    textStyle:{fontSize:21, fontFamily:FONT, color:'#1a1a1a'}, selectedMode:false}
];

// decorative axis-break marks and text labels
var graphics = [];
[[47,321],[428,698]].forEach(function(ys){
  ys.forEach(function(y){
    graphics.push({type:'line', shape:{x1:542, y1:y, x2:556, y2:y}, style:{stroke:AX, lineWidth:1.5}, silent:true});
    [540, 555].forEach(function(x){
      graphics.push({type:'line', shape:{x1:x-5, y1:y+8, x2:x+5, y2:y-6}, style:{stroke:AX, lineWidth:1.5}, silent:true});
    });
  });
});
var supRich = {m:{fontSize:21, fontFamily:FONT, fill:'#111', lineHeight:30}, s:{fontSize:13, fontFamily:FONT, fill:'#111', verticalAlign:'top', lineHeight:14}};
var titleRich = {m:{fontSize:23, fontFamily:FONT, fill:'#111', lineHeight:32}, s:{fontSize:14, fontFamily:FONT, fill:'#111', verticalAlign:'top', lineHeight:15}};
graphics.push({type:'text', x:918, y:58, style:{text:'a)', font:'22px ' + FONT, fill:'#111'}, silent:true});
graphics.push({type:'text', x:920, y:439, style:{text:'b)', font:'22px ' + FONT, fill:'#111'}, silent:true});
graphics.push({type:'text', x:549, y:768, style:{text:'{m|nombre d\'onde (cm}{s|-1}{m|)}', rich:supRich, align:'center', verticalAlign:'middle'}, silent:true});
[[185,178],[560,556]].forEach(function(c){
  graphics.push({type:'text', x:23, y:c[0], rotation:Math.PI/2, style:{text:'{m|luminance spectrale}', rich:titleRich, align:'center', verticalAlign:'middle'}, silent:true});
  graphics.push({type:'text', x:57, y:c[1], rotation:Math.PI/2, style:{text:'{m|(W/cm}{s|2}{m|/sr/cm}{s|-1}{m|)}', rich:titleRich, align:'center', verticalAlign:'middle'}, silent:true});
});

var chart = echarts.init(document.getElementById('c'), null, {renderer:'canvas'});
chart.setOption({
  animation:false,
  backgroundColor:'#ffffff',
  grid:grids,
  xAxis:xAxes,
  yAxis:yAxes,
  legend:legends,
  series:series,
  graphic:graphics
});
</script></body></html>
